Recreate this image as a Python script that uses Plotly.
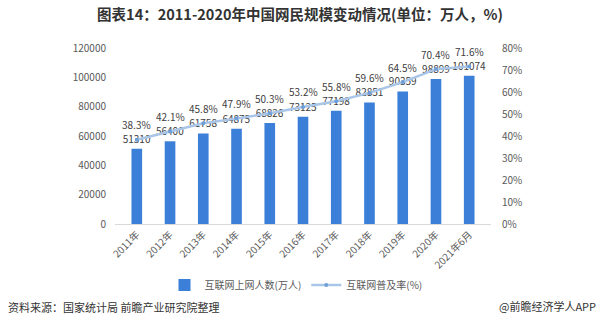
import plotly.graph_objects as go

# Internet users in China, 2011 – mid 2021
periods = ["2011年", "2012年", "2013年", "2014年", "2015年", "2016年",
           "2017年", "2018年", "2019年", "2020年", "2021年6月"]
users_10k = [51310, 56400, 61758, 64875, 68826, 73125, 77198, 82851, 90359, 98899, 101074]
penetration_pct = [38.3, 42.1, 45.8, 47.9, 50.3, 53.2, 55.8, 59.6, 64.5, 70.4, 71.6]

left_ticks = [0, 20000, 40000, 60000, 80000, 100000, 120000]
right_ticks = [0, 10, 20, 30, 40, 50, 60, 70, 80]

W, H = 600, 324
L, R, T, B = 115, 109, 48, 100
pw, ph = W - L - R, H - T - B


def px_x(x):
    return (x - L) / pw


def px_y(y):
    return (H - B - y) / ph


CJK = "Noto Sans CJK SC, Microsoft YaHei, sans-serif"
label_col = "#404040"
tick_col = "#595959"

fig = go.Figure()
fig.add_trace(go.Bar(
    x=periods, y=users_10k, name="互联网上网人数(万人)",
    marker=dict(color="#3C7FD8", line=dict(width=0)),
    text=[str(v) for v in users_10k], textposition="outside",
    constraintext="none",
    textfont=dict(size=10, color=label_col, family=CJK),
    cliponaxis=False,
))
fig.add_trace(go.Scatter(
    x=periods, y=penetration_pct, name="互联网普及率(%)", yaxis="y2",
    mode="lines+markers",
    line=dict(color="#A9C6E8", width=2.5),
    marker=dict(size=4, color="#6F9FD8"),
    cliponaxis=False,
))

# percentage labels sit just above each point of the rate line
for p, v in zip(periods, penetration_pct):
    fig.add_annotation(
        x=p, y=v, xref="x", yref="y2", text=f"{v:.1f}%",
        showarrow=False, yanchor="middle", yshift=15, borderpad=0,
        font=dict(size=10, color=label_col, family=CJK),
    )

fig.update_layout(
    width=W, height=H,
    margin=dict(l=L, r=R, t=T, b=B),
    paper_bgcolor="white", plot_bgcolor="white",
    font=dict(family=CJK, size=10, color=tick_col),
    bargap=0.68,
    title=dict(
        text="图表14：2011-2020年中国网民规模变动情况(单位：万人，%)",
        x=0.5, xref="container", xanchor="center",
        y=1 - 15 / H, yref="container", yanchor="middle",
        font=dict(size=14.5, color="#333333", family=CJK, weight="bold"),
    ),
    xaxis=dict(
        type="category", tickangle=-45, showgrid=False,
        showline=True, linecolor="#D9D9D9", linewidth=1,
        ticks="", tickfont=dict(size=10, color=tick_col),
    ),
    yaxis=dict(
        range=[0, 120000], tickvals=left_ticks,
        ticktext=[str(v) for v in left_ticks], showgrid=False,
        zeroline=False, showline=False,
        ticks="outside", ticklen=6, tickcolor="rgba(0,0,0,0)",
        tickfont=dict(size=10, color=tick_col),
    ),
    yaxis2=dict(
        range=[0, 80], tickvals=right_ticks,
        ticktext=[f"{v}%" for v in right_ticks],
        overlaying="y", side="right", showgrid=False,
        zeroline=False, showline=False,
        ticks="outside", ticklen=8, tickcolor="rgba(0,0,0,0)",
        tickfont=dict(size=10, color=tick_col),
    ),
    legend=dict(
        orientation="h", x=px_x(296), xanchor="center",
        y=px_y(285), yanchor="middle",
        font=dict(size=10, color=tick_col), itemwidth=30,
        bgcolor="rgba(0,0,0,0)",
    ),
    showlegend=True,
)

fig.add_annotation(
    text="资料来源：国家统计局 前瞻产业研究院整理",
    xref="paper", yref="paper", x=px_x(6), y=px_y(307),
    xanchor="left", yanchor="middle", showarrow=False,
    font=dict(size=11, color="#333333", family=CJK),
)
fig.add_annotation(
    text="@前瞻经济学人APP",
    xref="paper", yref="paper", x=px_x(598), y=px_y(306),
    xanchor="right", yanchor="middle", showarrow=False,
    font=dict(size=11, color="#333333", family=CJK),
)

fig.write_html("out.html")
